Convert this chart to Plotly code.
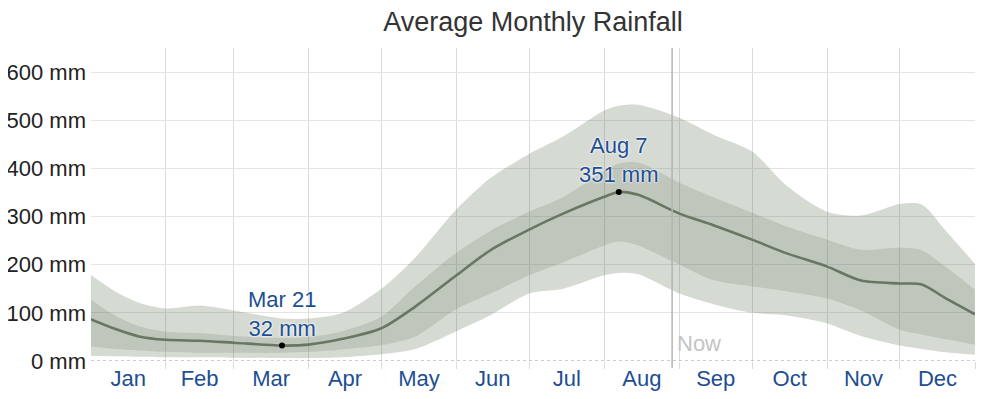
import plotly.graph_objects as go

# ---- data ----
dates = ["2023-01-01", "2023-01-11", "2023-01-21", "2023-02-01", "2023-02-15", "2023-03-01",
         "2023-03-21", "2023-04-01", "2023-04-15", "2023-05-01", "2023-05-15", "2023-06-01",
         "2023-06-15", "2023-07-01", "2023-07-15", "2023-08-01", "2023-08-07", "2023-08-15",
         "2023-09-01", "2023-09-15", "2023-10-01", "2023-10-15", "2023-11-01", "2023-11-15",
         "2023-12-01", "2023-12-10", "2023-12-20", "2023-12-31 23:00"]
median = [87, 67, 51, 44, 42, 38, 32, 34, 46, 68, 113, 178, 230, 273, 306, 341, 351, 345,
          306, 282, 252, 224, 196, 167, 161, 159, 130, 97]
p90 = [179, 145, 121, 109, 115, 105, 88, 88, 100, 150, 215, 315, 380, 430, 466, 520, 530, 532,
       505, 470, 435, 365, 310, 302, 326, 325, 270, 202]
p75 = [128, 95, 72, 61, 58, 52, 48, 50, 62, 92, 155, 225, 270, 310, 340, 395, 410, 412,
       370, 340, 308, 280, 252, 231, 235, 230, 195, 148]
p25 = [30, 25, 22, 19, 17, 17, 17, 19, 24, 33, 51, 108, 140, 178, 205, 240, 248, 240,
       200, 168, 155, 145, 130, 105, 65, 55, 45, 34]
p10 = [11, 10, 9, 8, 8, 7, 6, 6, 8, 14, 25, 62, 95, 140, 150, 178, 183, 180,
       140, 118, 100, 95, 78, 52, 32, 25, 18, 13]

extreme_dates = ["2023-03-21", "2023-08-07"]
extreme_values = [32, 351]
extreme_labels = ["Mar 21<br>32 mm", "Aug 7<br>351 mm"]

y_ticks = [0, 100, 200, 300, 400, 500, 600]
y_tick_labels = [f"{v} mm" for v in y_ticks]
now_date = "2023-08-29"

FONT = "Arial, Liberation Sans, sans-serif"
LINE = "#687663"
OUTER = "rgba(100,118,92,0.27)"
INNER = "rgba(95,110,88,0.19)"
BLUE = "#1d4e92"

fig = go.Figure()
spl = dict(shape="spline", smoothing=0.8)
fig.add_trace(go.Scatter(x=dates, y=p90, mode="lines", line=dict(width=0, **spl),
                         hoverinfo="skip", showlegend=False))
fig.add_trace(go.Scatter(x=dates, y=p10, mode="lines", line=dict(width=0, **spl),
                         fill="tonexty", fillcolor=OUTER, hoverinfo="skip", showlegend=False))
fig.add_trace(go.Scatter(x=dates, y=p75, mode="lines", line=dict(width=0, **spl),
                         hoverinfo="skip", showlegend=False))
fig.add_trace(go.Scatter(x=dates, y=p25, mode="lines", line=dict(width=0, **spl),
                         fill="tonexty", fillcolor=INNER, hoverinfo="skip", showlegend=False))
fig.add_trace(go.Scatter(x=dates, y=median, mode="lines", line=dict(width=2.6, color=LINE, **spl),
                         showlegend=False))
fig.add_trace(go.Scatter(x=extreme_dates, y=extreme_values, mode="markers",
                         marker=dict(color="black", size=6), showlegend=False))

for d, v, t in zip(extreme_dates, extreme_values, extreme_labels):
    fig.add_annotation(x=d, y=v, text=t, showarrow=False, yanchor="bottom", yshift=3,
                       font=dict(family=FONT, size=22, color=BLUE,
                                 shadow="0px 0px 3px white, 0px 0px 2px white"))

# zero line (dotted)
fig.add_shape(type="line", xref="paper", yref="y", x0=0, x1=1, y0=0, y1=0,
              line=dict(color="#9a9a9a", width=1, dash="dot"))
# now line
fig.add_shape(type="line", xref="x", yref="paper", x0=now_date, x1=now_date, y0=-0.022, y1=1,
              line=dict(color="#b4b4b4", width=1.5))
fig.add_annotation(x=now_date, y=0, text="Now", showarrow=False, xanchor="left",
                   yanchor="bottom", xshift=3, yshift=3,
                   font=dict(family=FONT, size=22, color="#c4c4c4"))

fig.update_layout(
    width=994, height=399,
    margin=dict(l=83, r=27, t=40, b=46),
    paper_bgcolor="white", plot_bgcolor="white",
    title=dict(text="Average Monthly Rainfall", x=0.5, xref="paper", y=1 - 14 / 399,
               yref="container", xanchor="center", yanchor="middle",
               font=dict(family=FONT, size=27, color="#333333")),
    font=dict(family=FONT),
    xaxis=dict(type="date", range=["2023-01-01 04:00", "2023-12-31 23:59"], dtick="M1",
               tick0="2023-01-01", tickformat="%b", ticklabelmode="period",
               showgrid=True, gridcolor="#dadada", gridwidth=1,
               ticks="outside", ticklen=7, tickcolor="#dadada", tickwidth=1,
               ticklabelstandoff=-9,
               showline=False, zeroline=False, automargin=False,
               tickfont=dict(family=FONT, size=22, color=BLUE)),
    yaxis=dict(range=[0, 650], tickvals=y_ticks, ticktext=y_tick_labels,
               showgrid=True, gridcolor="#e4e4e4", gridwidth=1, zeroline=False,
               showline=False, ticks="", ticklabelstandoff=4, automargin=False,
               tickfont=dict(family=FONT, size=22, color="#222222")),
)

fig.write_html("out.html")
